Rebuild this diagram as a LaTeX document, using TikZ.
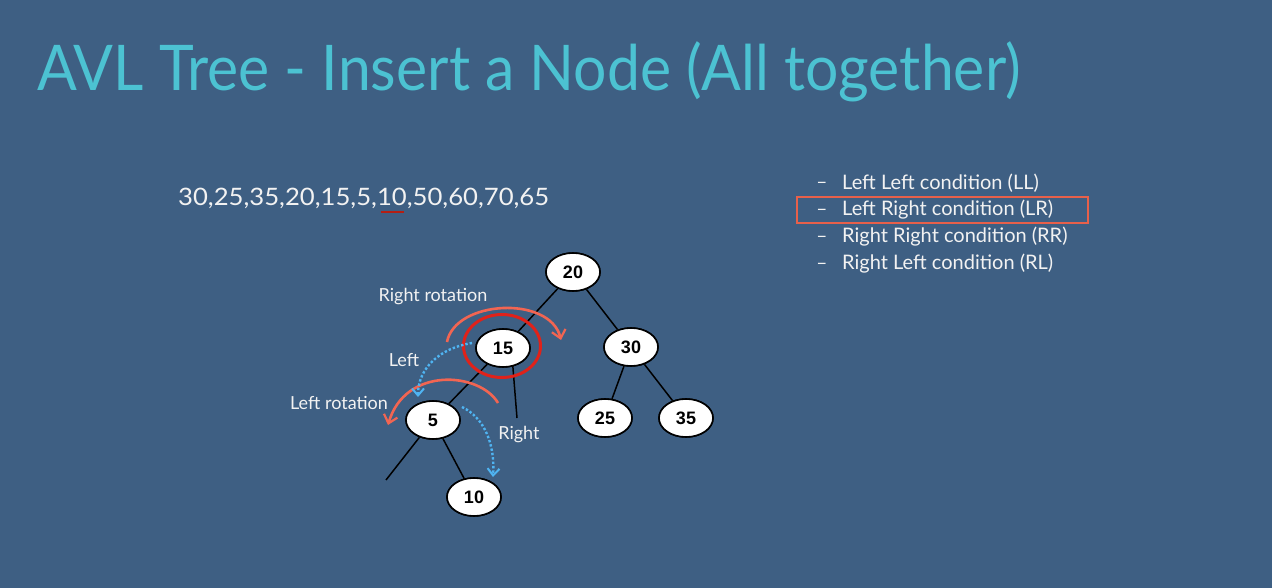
\documentclass[tikz,border=0pt]{standalone}
\usepackage{fontspec}
\setmainfont{Lato}
\newfontfamily\numfont{Liberation Sans}
\usetikzlibrary{shapes.geometric,arrows.meta}
\definecolor{slidebg}{HTML}{3E5F83}
\definecolor{titlecyan}{HTML}{4CC2D2}
\definecolor{rotred}{HTML}{F26552}
\definecolor{ringred}{HTML}{E0221A}
\definecolor{boxred}{HTML}{E8604A}
\definecolor{ulred}{HTML}{B51E12}
\definecolor{pathblue}{HTML}{4FB4F2}
\definecolor{labelwhite}{HTML}{F2F2F2}
\begin{document}
\begin{tikzpicture}[x=1pt,y=-1pt,
  treenode/.style={ellipse,draw=black,line width=1.6pt,fill=white,
    minimum width=54pt,minimum height=38pt,inner sep=0pt,
    font=\numfont\bfseries\fontsize{18}{18}\selectfont},
  edge/.style={draw=black,line width=1.5pt},
  rotarc/.style={draw=rotred,line width=2.6pt,-{Straight Barb[length=8pt,width=14pt,line width=2.2pt]}},
  dotpath/.style={draw=pathblue,line width=2.4pt,dotted,
    -{Straight Barb[length=7pt,width=12pt,line width=2pt]}},
  lbl/.style={text=labelwhite,font=\fontsize{18}{18}\selectfont,inner sep=0pt},
  item/.style={text=labelwhite,font=\fontsize{20}{20}\selectfont,inner sep=0pt,anchor=west},
  bullet/.style={text=labelwhite,font=\fontsize{19}{19}\selectfont,inner sep=0pt}]
\useasboundingbox[fill=slidebg] (0,0) rectangle (1272,588);

% heading
\node[anchor=west,inner sep=0pt,text=titlecyan,font=\fontsize{63}{63}\selectfont]
  (title) at (37,72) {\scalebox{0.935}[1]{AVL Tree - Insert a Node (All together)}};

% insertion sequence, with the newly inserted key underlined
\node[anchor=west,inner sep=0pt,text=labelwhite,font=\fontsize{24}{24}\selectfont]
  (seq) at (178,198) {\scalebox{1.07}[1]{30,25,35,20,15,5,10,50,60,70,65}};
\coordinate (ulA) at (381,212);
\coordinate (ulB) at (404,212);
\draw[ulred,line width=2.6pt] (ulA) -- (ulB);

% list of imbalance cases
\node[bullet] (b1) at (822,185) {--};
\node[bullet] (b2) at (822,212) {--};
\node[bullet] (b3) at (822,239) {--};
\node[bullet] (b4) at (822,266) {--};
\node[item] (c1) at (842,183) {Left Left condition (LL)};
\node[item] (c2) at (842,210) {Left Right condition (LR)};
\node[item] (c3) at (842,237) {Right Right condition (RR)};
\node[item] (c4) at (842,264) {Right Left condition (RL)};
\coordinate (boxA) at (797,197);
\coordinate (boxB) at (1088,223);
\draw[boxred,line width=2pt] (boxA) rectangle (boxB);

% tree
\coordinate (d15) at (517,418);
\coordinate (d5) at (386,480);
\node[treenode] (n20) at (573,272) {20};
\node[treenode] (n15) at (503,348) {15};
\node[treenode] (n30) at (631,347) {30};
\node[treenode] (n5)  at (433,420) {5};
\node[treenode] (n25) at (605,418) {25};
\node[treenode] (n35) at (686,418) {35};
\node[treenode] (n10) at (474,497) {10};
\draw[edge] (n20) -- (n15);
\draw[edge] (n20) -- (n30);
\draw[edge] (n15) -- (n5);
\draw[edge] (n15.south east) ++(-10,2) -- (d15);
\draw[edge] (n30) -- (n25);
\draw[edge] (n30) -- (n35);
\draw[edge] (n5) -- (d5);
\draw[edge] (n5) -- (n10);
% redraw nodes above the edges
\node[treenode] at (n20) {20};
\node[treenode] at (n15) {15};
\node[treenode] at (n30) {30};
\node[treenode] at (n5) {5};
\node[treenode] at (n25) {25};
\node[treenode] at (n35) {35};
\node[treenode] at (n10) {10};

% ring around the unbalanced node
\draw[ringred,line width=3pt] (502,346) ellipse [x radius=38.5, y radius=31.5];

% rotation arcs
\draw[rotarc] (447,342) .. controls (455,300) and (550,295) .. (561,340);
\draw[rotarc] (498,403) .. controls (480,372) and (405,366) .. (388,425);

% Left / Right path arrows
\draw[dotpath] (472,343) .. controls (440,348) and (418,368) .. (418,397);
\draw[dotpath] (462,407) .. controls (485,418) and (495,445) .. (493,477);

% labels
\node[lbl] (lrr) at (433,297) {Right rotation};
\node[lbl] (llt) at (404,360) {Left};
\node[lbl] (llr) at (339,403) {Left rotation};
\node[lbl] (lrt) at (519,435) {Right};
\end{tikzpicture}
\end{document}
